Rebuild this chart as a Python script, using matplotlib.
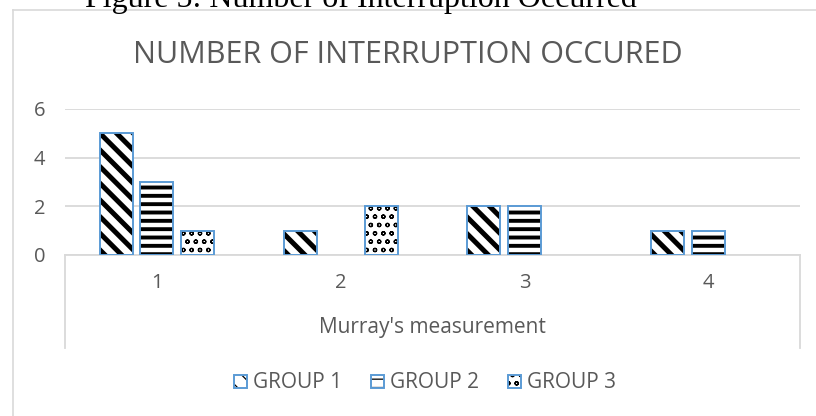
import numpy as np
import matplotlib
matplotlib.use('Agg')
import matplotlib.pyplot as plt
from matplotlib.lines import Line2D
from matplotlib.legend_handler import HandlerTuple

##### DATA #####
categories = ['1', '2', '3', '4']
groups = ['GROUP 1', 'GROUP 2', 'GROUP 3']
group1 = [5, 1, 2, 1]
group2 = [3, 0, 2, 1]
group3 = [1, 2, 0, 0]
yticks = [0, 2, 4, 6]

W, H = 816, 416
fig = plt.figure(figsize=(W / 100, H / 100), dpi=100)
grey = '#595959'
light = '#D9D9D9'
edge = '#5B9BD5'
font = 'Open Sans'

def fx(px):
    return px / W

def fy(py):
    return 1 - py / H

# outer chart frame (cut by the image edges)
fig.add_artist(Line2D([fx(13), fx(13)], [fy(10), 0], color=light, lw=1.2))
fig.add_artist(Line2D([fx(13), 1], [fy(10), fy(10)], color=light, lw=1.2))

# document caption, partly cut off at the top
fig.text(fx(85), fy(7), 'Figure 5: Number of Interruption Occurred',
         family='Liberation Serif', fontsize=23, color='black', va='baseline')

# chart title
fig.text(fx(408), fy(63), 'NUMBER OF INTERRUPTION OCCURED',
         family=font, fontsize=22, color=grey, ha='center', va='baseline')

x0, x1, ytop, ybot = 65, 800, 109, 255
ax = fig.add_axes([fx(x0), fy(ybot), fx(x1 - x0), (ybot - ytop) / H])

x = np.arange(len(categories))
bw = 0.18
step = 0.22
series = [group1, group2, group3]
hatches = ['\\\\', '--', 'oo']
hlw = [3.6, 2.8, 0.9]
handles = []
for i, (vals, hatch) in enumerate(zip(series, hatches)):
    plt.rcParams['hatch.linewidth'] = hlw[i]
    pos = x + (i - 1) * step
    fillbars = ax.bar(pos, vals, bw, color='white', edgecolor='black',
                      linewidth=0, hatch=hatch, zorder=3)
    outline = ax.bar(pos, vals, bw, fill=False, edgecolor=edge, linewidth=1.4, zorder=4)
    for j, (b, o) in enumerate(zip(fillbars, outline)):
        if hasattr(b, 'set_hatch_linewidth'):
            b.set_hatch_linewidth(hlw[i])
        if vals[j] == 0:
            b.set_visible(False)
            o.set_visible(False)
    handles.append((fillbars, outline))

ax.set_xlim(-0.5, len(categories) - 0.5)
ax.set_ylim(0, 6)
ax.set_yticks(yticks)
ax.set_yticklabels([str(t) for t in yticks], family=font, fontsize=14.5, color=grey)
ax.set_xticks([])
ax.tick_params(axis='y', length=0, pad=14)
ax.grid(axis='y', color=light, lw=1.3, zorder=0)
ax.set_axisbelow(True)
for s in ['top', 'left', 'right']:
    ax.spines[s].set_visible(False)
ax.spines['bottom'].set_color(light)
ax.spines['bottom'].set_linewidth(1.3)

# category labels under the axis
for i, c in enumerate(categories):
    ax.text(i, -0.195, c, transform=ax.get_xaxis_transform(), ha='center', va='center',
            family=font, fontsize=14.5, color=grey)

# category box sides
fig.add_artist(Line2D([fx(x0), fx(x0)], [fy(ybot), fy(348)], color=light, lw=1.3))
fig.add_artist(Line2D([fx(x1), fx(x1)], [fy(ybot), fy(348)], color=light, lw=1.3))

fig.text(fx(432), fy(327), "Murray's measurement", family=font, fontsize=15,
         color=grey, ha='center', va='center')

leg = fig.legend(handles=handles, labels=groups, loc='center', bbox_to_anchor=(fx(425), fy(383)),
                 ncol=3, frameon=False, prop={'family': font, 'size': 15},
                 handler_map={tuple: HandlerTuple(ndivide=1)},
                 handlelength=0.6, handleheight=0.6, handletextpad=0.3, columnspacing=1.4)
for t in leg.get_texts():
    t.set_color(grey)

fig.savefig('out.png', dpi=100)
